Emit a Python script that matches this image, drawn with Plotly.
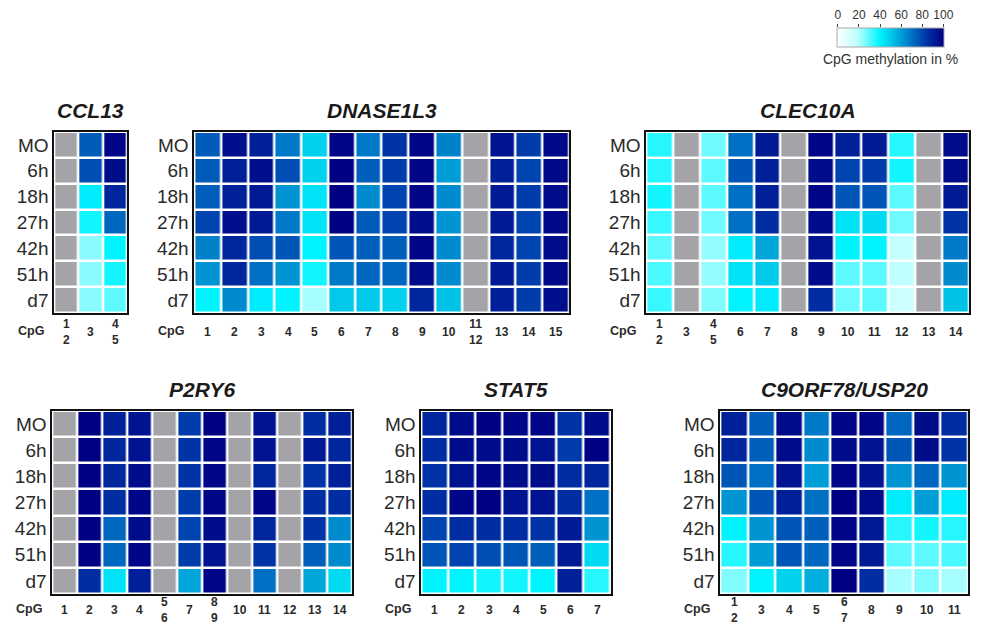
import plotly.graph_objects as go

W, H = 981, 624

rows = ["MO", "6h", "18h", "27h", "42h", "51h", "d7"]
scale_ticks = [0, 20, 40, 60, 80, 100]

# ---- data: values per column (rows MO..d7); None = not measured (grey) ----
ccl13_cols = ["1<br>2", "3", "4<br>5"]
ccl13_vals = [
    [None] * 7,
    [75, 78, 42, 38, 25, 25, 25],
    [98, 96, 88, 72, 40, 38, 30],
]

dnase_cols = ["1", "2", "3", "4", "5", "6", "7", "8", "9", "10", "11<br>12", "13", "14", "15"]
dnase_vals = [
    [75, 75, 74, 80, 66, 62, 40],
    [95, 90, 90, 95, 88, 88, 64],
    [90, 95, 92, 92, 78, 70, 42],
    [68, 78, 62, 68, 76, 62, 40],
    [48, 48, 44, 44, 40, 38, 22],
    [98, 100, 100, 100, 76, 68, 50],
    [68, 74, 64, 75, 74, 72, 50],
    [84, 82, 80, 80, 74, 72, 48],
    [98, 98, 98, 95, 98, 96, 88],
    [66, 60, 64, 62, 64, 64, 52],
    [None] * 7,
    [94, 90, 92, 92, 88, 92, 90],
    [82, 80, 82, 80, 80, 82, 82],
    [97, 97, 96, 97, 96, 97, 95],
]

clec_cols = ["1<br>2", "3", "4<br>5", "6", "7", "8", "9", "10", "11", "12", "13", "14"]
clec_vals = [
    [36, 36, 38, 34, 30, 32, 34],
    [None] * 7,
    [28, 30, 30, 28, 24, 24, 26],
    [70, 76, 70, 70, 42, 44, 40],
    [92, 90, 90, 86, 58, 50, 42],
    [None] * 7,
    [98, 96, 98, 96, 94, 96, 86],
    [90, 80, 76, 44, 40, 30, 28],
    [92, 82, 76, 46, 40, 30, 30],
    [36, 38, 30, 28, 16, 18, 14],
    [None] * 7,
    [96, 96, 92, 84, 68, 64, 52],
]

p2ry6_cols = ["1", "2", "3", "4", "5<br>6", "7", "8<br>9", "10", "11", "12", "13", "14"]
p2ry6_vals = [
    [None] * 7,
    [100, 100, 100, 100, 100, 100, 86],
    [90, 88, 88, 86, 72, 72, 44],
    [94, 94, 96, 98, 96, 98, 90],
    [None] * 7,
    [82, 84, 84, 82, 80, 82, 58],
    [100, 98, 98, 98, 96, 94, 98],
    [None] * 7,
    [94, 94, 88, 98, 88, 84, 70],
    [None] * 7,
    [86, 92, 84, 86, 84, 74, 58],
    [90, 88, 90, 86, 64, 64, 46],
]

stat5_cols = ["1", "2", "3", "4", "5", "6", "7"]
stat5_vals = [
    [88, 86, 84, 86, 80, 76, 40],
    [96, 96, 94, 98, 86, 80, 40],
    [100, 96, 98, 100, 86, 78, 38],
    [98, 96, 96, 94, 86, 76, 38],
    [98, 94, 96, 94, 84, 74, 40],
    [84, 82, 86, 86, 92, 92, 90],
    [96, 100, 88, 70, 62, 46, 36],
]

c9_cols = ["1<br>2", "3", "4", "5", "6<br>7", "8", "9", "10", "11"]
c9_vals = [
    [90, 88, 76, 62, 40, 36, 26],
    [74, 74, 70, 76, 62, 60, 40],
    [96, 96, 94, 90, 76, 76, 48],
    [68, 64, 60, 70, 74, 72, 56],
    [98, 96, 98, 100, 98, 98, 100],
    [98, 94, 94, 96, 92, 92, 86],
    [72, 76, 62, 42, 36, 30, 22],
    [96, 96, 72, 60, 38, 30, 26],
    [86, 84, 62, 42, 36, 32, 22],
]

genes = ["CCL13", "DNASE1L3", "CLEC10A", "P2RY6", "STAT5", "C9ORF78/USP20"]
gene_cols = [ccl13_cols, dnase_cols, clec_cols, p2ry6_cols, stat5_cols, c9_cols]
gene_vals = [ccl13_vals, dnase_vals, clec_vals, p2ry6_vals, stat5_vals, c9_vals]

# panel boxes in pixels (left, right, top, bottom)
boxes = [
    (52, 126, 132, 313),
    (194, 574, 132, 313),
    (652, 979, 132, 313),
    (50, 354, 411, 594),
    (424, 616, 411, 594),
    (727, 978, 411, 594),
]
# colour bar box in pixels (left, right, top, bottom)
cb_box = (846, 953, 28, 47)

colorscale = [
    [0.0, "#FFFFFF"],
    [0.2, "#B8FFFF"],
    [0.4, "#00F4FF"],
    [0.55, "#00B4E0"],
    [0.7, "#0070C4"],
    [0.85, "#0030A4"],
    [1.0, "#000082"],
]
grey = "#A3A3A8"
FONT = "Liberation Sans, Arial, sans-serif"

fig = go.Figure()
layout = {}

cl, cr, ct, cbm = cb_box
for i, (g, cols, vals, box) in enumerate(zip(genes, gene_cols, gene_vals, boxes)):
    n = len(cols)
    z = [[vals[c][r] for c in range(n)] for r in range(7)]
    zmiss = [[1 if vals[c][r] is None else None for c in range(n)] for r in range(7)]
    xs = list(range(n))
    ys = list(range(7))
    ax = "" if i == 0 else str(i + 1)
    fig.add_trace(go.Heatmap(
        z=z, x=xs, y=ys, colorscale=colorscale, zmin=0, zmax=100,
        xgap=2.5, ygap=2.5, showscale=(i == 0), hoverongaps=False,
        xaxis="x" + ax, yaxis="y" + ax,
        colorbar=dict(
            orientation="h", x=(cl + cr) / 2 / W, xanchor="center",
            y=1 - ct / H, yanchor="top", ypad=0, xpad=0,
            len=cr - cl, lenmode="pixels", thickness=cbm - ct,
            tickvals=scale_ticks, ticks="", tickangle=0,
            tickfont=dict(size=1, color="rgba(0,0,0,0)"),
            outlinewidth=1, outlinecolor="#aaa",
            title=dict(text="CpG methylation in %", side="bottom",
                       font=dict(size=14, color="#333", family=FONT)),
        ) if i == 0 else None,
    ))
    fig.add_trace(go.Heatmap(
        z=zmiss, x=xs, y=ys, colorscale=[[0, grey], [1, grey]], zmin=0, zmax=1,
        xgap=2.5, ygap=2.5, showscale=False, hoverongaps=False,
        xaxis="x" + ax, yaxis="y" + ax,
    ))
    l, r, t, b = box
    layout["xaxis" + ax] = dict(
        domain=[l / W, r / W], range=[-0.5, n - 0.5], anchor="y" + ax,
        showticklabels=False, ticks="", showgrid=False, zeroline=False,
        showline=True, mirror=True, linecolor="#111", linewidth=2,
    )
    layout["yaxis" + ax] = dict(
        domain=[1 - b / H, 1 - t / H], range=[6.5, -0.5], anchor="x" + ax,
        tickvals=ys, ticktext=rows, ticks="", showgrid=False, zeroline=False,
        showline=True, mirror=True, linecolor="#111", linewidth=2,
        tickfont=dict(size=19, color="#2a2a2a", family=FONT),
    )

# axis carrying the colour-scale tick labels above the bar
fig.add_trace(go.Scatter(
    x=scale_ticks, y=[0.5] * len(scale_ticks), mode="markers",
    marker=dict(opacity=0, size=1), hoverinfo="skip", showlegend=False,
    xaxis="x7", yaxis="y7",
))
layout["xaxis7"] = dict(
    domain=[cl / W, cr / W], range=[0, 100], anchor="y7", side="top",
    tickvals=scale_ticks, ticks="outside", ticklen=3, tickcolor="#444",
    showgrid=False, zeroline=False, showline=False,
    tickfont=dict(size=12, color="#333", family=FONT), tickangle=0,
)
layout["yaxis7"] = dict(domain=[1 - cbm / H, 1 - ct / H], range=[0, 1],
                        anchor="x7", showticklabels=False, ticks="",
                        showgrid=False, zeroline=False, showline=False)

fig.update_layout(**layout)

annotations = []
for i, (g, cols, box) in enumerate(zip(genes, gene_cols, boxes)):
    l, r, t, b = box
    ax = "" if i == 0 else str(i + 1)
    off = 19 if i < 3 else 16
    annotations.append(dict(
        text="<b><i>%s</i></b>" % g, xref="paper", yref="paper",
        x=(l + r) / 2 / W, y=1 - (t - 22) / H, xanchor="center", yanchor="middle",
        showarrow=False, font=dict(size=21, color="#1a1a1a", family=FONT),
    ))
    annotations.append(dict(
        text="<b>CpG</b>", xref="paper", yref="paper",
        x=(l - 24) / W, y=1 - (b + off - 1) / H, xanchor="center", yanchor="middle",
        showarrow=False, font=dict(size=12.5, color="#2a2a2a", family=FONT),
    ))
    for k, c in enumerate(cols):
        annotations.append(dict(
            text="<b>%s</b>" % c, xref="x" + ax, yref="paper",
            x=k, y=1 - (b + off) / H, xanchor="center", yanchor="middle",
            showarrow=False, font=dict(size=12, color="#2a2a2a", family=FONT),
        ))

fig.update_layout(
    width=W, height=H, margin=dict(l=0, r=0, t=0, b=0),
    paper_bgcolor="white", plot_bgcolor="white",
    annotations=annotations, showlegend=False,
)

fig.write_html(
    "out.html",
    config={"displayModeBar": False},
    post_script="document.body.style.margin='0';document.body.style.overflow='hidden';",
)
